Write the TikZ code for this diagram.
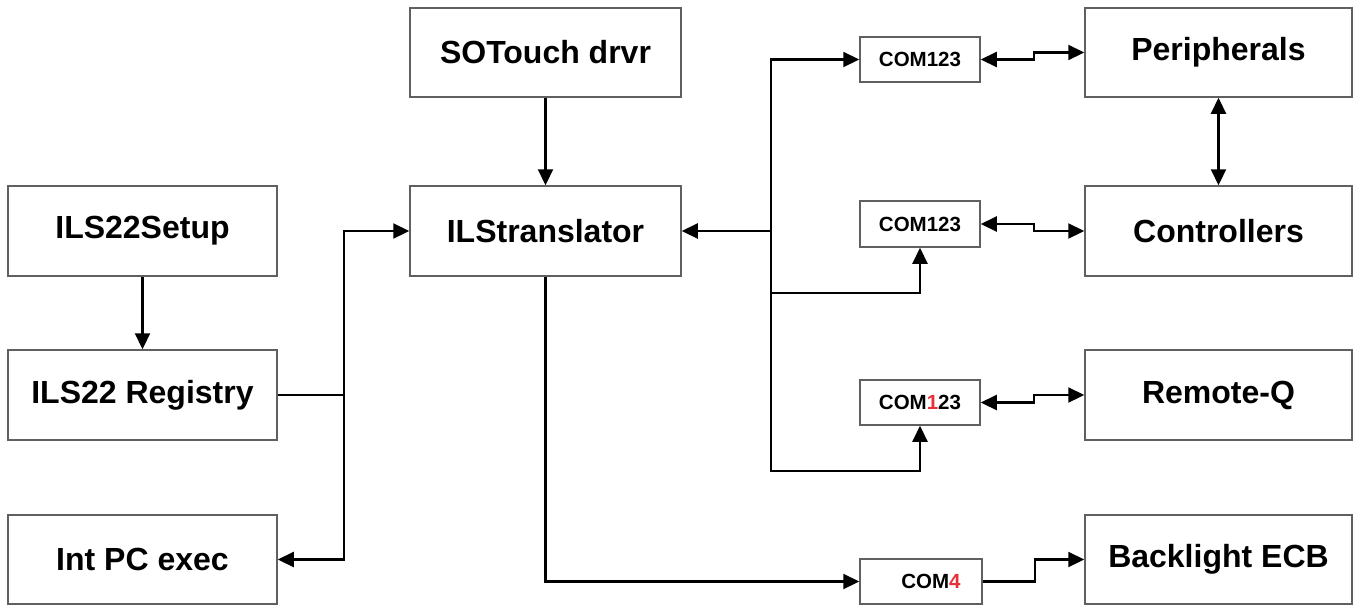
\documentclass[tikz,border=0pt]{standalone}
\usepackage{fontspec}
\setmainfont{Liberation Sans}
\usetikzlibrary{arrows.meta}
\definecolor{boxgray}{HTML}{606060}
\definecolor{comred}{HTML}{E8303A}
\tikzset{
  bigbox/.style={draw=boxgray, line width=1.5pt, fill=white, rectangle,
    minimum width=269pt, minimum height=89pt, inner sep=0pt,
    font=\fontsize{32}{38}\selectfont\bfseries},
  combox/.style={draw=boxgray, line width=1.5pt, fill=white, rectangle,
    minimum width=120pt, minimum height=45pt, inner sep=0pt,
    font=\fontsize{20.5}{24}\selectfont\bfseries},
  conn/.style={draw=black, line width=2.2pt},
  tip/.tip={Triangle[length=16pt,width=15pt]},
  arr/.style={conn, -tip},
  dbl/.style={conn, tip-tip}
}
\begin{document}
\begin{tikzpicture}[x=1pt,y=-1pt]
\useasboundingbox (0,0) rectangle (1361,606);
\fill[white] (0,0) rectangle (1361,606);

% left / middle boxes
\node[bigbox, minimum width=271pt] (sot) at (545.5,52.5) {SOTouch drvr};
\node[bigbox, minimum width=271pt, minimum height=90pt] (ilst) at (545.5,231) {ILStranslator};
\node[bigbox, minimum height=90pt] (setup) at (142.5,231) {ILS22Setup};
\node[bigbox, minimum height=90pt] (reg) at (142.5,395) {ILS22 Registry};
\node[bigbox] (intpc) at (142.5,559.5) {Int PC exec};

% right boxes
\node[bigbox, minimum width=267pt] (per) at (1218.5,52.5) {Peripherals};
\node[bigbox, minimum width=267pt, minimum height=90pt] (ctl) at (1218.5,231) {Controllers};
\node[bigbox, minimum width=267pt, minimum height=90pt] (rq) at (1218.5,395) {Remote-Q};
\node[bigbox, minimum width=267pt] (bl) at (1218.5,559.5) {Backlight ECB};

% COM boxes
\node[combox] (c1) at (920,59.5) {COM123};
\node[combox, minimum height=46pt] (c2) at (920,224) {COM123};
\node[combox] (c3) at (920,402.5) {COM\textcolor{comred}{1}23};
\node[combox, minimum width=122pt] (c4) at (921,581.5) {\hspace*{20pt}COM\textcolor{comred}{4}};

% vertical arrows
\draw[arr] (sot) -- (ilst);
\draw[arr] (setup) -- (reg);
\draw[dbl] (per) -- (ctl);

% left junction
\coordinate (jl) at (344,395);
\draw[conn] (reg.east) -- (jl);
\draw[arr] (jl) |- (ilst.west);
\draw[arr] (jl) |- (intpc.east);

% right junction
\coordinate (jr) at (771,231);
\coordinate (b2) at (771,293);
\coordinate (b3) at (771,471);
\draw[arr] (jr) -- (ilst.east);
\draw[arr] (jr) |- (c1.west);
\draw[arr] (jr) -- (b2) -| (c2.south);
\draw[arr] (b2) -- (b3) -| (c3.south);

% bottom
\draw[arr] (ilst.south) |- (c4.west);
\draw[arr] (c4.east) -- ++(52,0) |- (bl.west);

% COM to devices
\draw[dbl] (c1.east) -- ++(53,0) |- (per.west);
\draw[dbl] (c2.east) -- ++(53,0) |- (ctl.west);
\draw[dbl] (c3.east) -- ++(53,0) |- (rq.west);
\end{tikzpicture}
\end{document}
